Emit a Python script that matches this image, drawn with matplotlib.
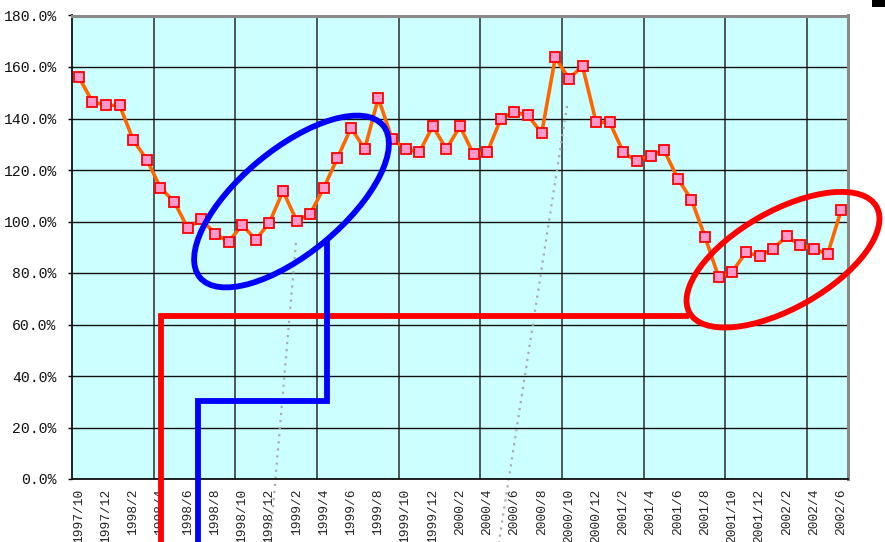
import matplotlib
matplotlib.use("Agg")
import matplotlib.pyplot as plt
from matplotlib.patches import Ellipse, Rectangle
from matplotlib.transforms import Affine2D

# ---------------- data ----------------
categories = [
    "1997/10", "1997/11", "1997/12",
    "1998/1", "1998/2", "1998/3", "1998/4", "1998/5", "1998/6",
    "1998/7", "1998/8", "1998/9", "1998/10", "1998/11", "1998/12",
    "1999/1", "1999/2", "1999/3", "1999/4", "1999/5", "1999/6",
    "1999/7", "1999/8", "1999/9", "1999/10", "1999/11", "1999/12",
    "2000/1", "2000/2", "2000/3", "2000/4", "2000/5", "2000/6",
    "2000/7", "2000/8", "2000/9", "2000/10", "2000/11", "2000/12",
    "2001/1", "2001/2", "2001/3", "2001/4", "2001/5", "2001/6",
    "2001/7", "2001/8", "2001/9", "2001/10", "2001/11", "2001/12",
    "2002/1", "2002/2", "2002/3", "2002/4", "2002/5", "2002/6",
]
values = [
    156.1, 146.5, 145.1,
    145.1, 131.6, 124.0, 113.1, 107.7, 97.5,
    100.8, 95.3, 92.1, 98.7, 92.9, 99.6,
    111.8, 100.3, 103.0, 113.1, 124.7, 136.4,
    128.1, 148.0, 132.2, 128.2, 126.8, 137.0,
    128.1, 137.0, 126.1, 126.8, 139.9, 142.5,
    141.2, 134.3, 163.7, 155.5, 160.3, 138.5,
    138.5, 126.8, 123.4, 125.6, 127.6, 116.6,
    108.5, 94.0, 78.4, 80.5, 88.0, 86.6,
    89.5, 94.2, 90.8, 89.5, 87.3, 104.4,
]
y_ticks = [0, 20, 40, 60, 80, 100, 120, 140, 160, 180]
y_tick_labels = ["0.0%", "20.0%", "40.0%", "60.0%", "80.0%", "100.0%",
                 "120.0%", "140.0%", "160.0%", "180.0%"]

# ---------------- figure ----------------
W, H, DPI = 885, 542, 100
fig = plt.figure(figsize=(W / DPI, H / DPI), dpi=DPI, facecolor="white")
ax = fig.add_axes([72 / W, 1 - 479 / H, (848 - 72) / W, (479 - 15.5) / H])
ax.set_facecolor("#CCFFFF")

n = len(categories)
x = list(range(n))
ax.plot(x, values, color="#FF6600", lw=2.6, zorder=4,
        marker="s", markersize=6.5, markerfacecolor="#FF99CC",
        markeredgecolor="#FF0000", markeredgewidth=1.3, clip_on=False)

ax.set_xlim(-0.5, n - 0.5)
ax.set_ylim(0, 180)

# ticks / labels
mono = ["Liberation Mono", "DejaVu Sans Mono"]
ax.set_xticks(x[::2])
ax.set_xticklabels(categories[::2], rotation=90, fontsize=9.3,
                   family=mono, color="#222222")
ax.set_xticks([i - 0.5 for i in range(6, n, 6)], minor=True)
ax.tick_params(axis="x", which="both", length=0, pad=7)
ax.set_yticks(y_ticks)
ax.set_yticklabels(y_tick_labels, fontsize=10.6, family=mono, color="#111111")
ax.tick_params(axis="y", length=3, width=1, pad=8, direction="out")

ax.grid(axis="y", which="major", color="#111111", lw=1.0, zorder=1)
ax.grid(axis="x", which="minor", color="#3a3a3a", lw=1.2, zorder=1)
ax.grid(axis="x", which="major", visible=False)
ax.set_axisbelow(True)

for s in ("left", "bottom"):
    ax.spines[s].set_color("#111111")
    ax.spines[s].set_linewidth(1.3)
for s in ("top", "right"):
    ax.spines[s].set_color("#8a8a8a")
    ax.spines[s].set_linewidth(2.2)

# ---------------- annotations ----------------
# grey dotted leader lines (data coordinates)
ax.plot([15.95, 14.04], [91.7, -24.5], color="#AAAAAA", lw=1.6,
        ls=(0, (1, 2.2)), clip_on=False, zorder=2)
ax.plot([35.86, 30.86], [144.9, -24.5], color="#AAAAAA", lw=1.6,
        ls=(0, (1, 2.2)), clip_on=False, zorder=2)

# red and blue step lines (data coordinates)
ax.plot([6.07, 6.07, 44.6], [-40, 63.3, 63.3], color="#FF0000", lw=4.2,
        solid_joinstyle="miter", clip_on=False, zorder=5)
ax.plot([8.76, 8.76, 18.2, 18.2], [-40, 30.3, 30.3, 91.5], color="#0000FF",
        lw=4.2, solid_joinstyle="miter", clip_on=False, zorder=5)

# ellipses drawn in image pixel space
img = Affine2D().scale(1 / DPI, -1 / DPI).translate(0, H / DPI) + fig.dpi_scale_trans
blue_ell = Ellipse((291.5, 201.5), 238, 104, angle=-39.7, fill=False,
                   edgecolor="#0000FF", lw=4.2, transform=img, zorder=6)
red_ell = Ellipse((783, 259.7), 215, 97, angle=-29.6, fill=False,
                  edgecolor="#FF0000", lw=4.2, transform=img, zorder=6)
fig.add_artist(blue_ell)
fig.add_artist(red_ell)
fig.add_artist(Rectangle((872, 0), 13, 7, facecolor="black", edgecolor="none",
                         transform=img))

fig.savefig("out.png", dpi=DPI, facecolor="white")
